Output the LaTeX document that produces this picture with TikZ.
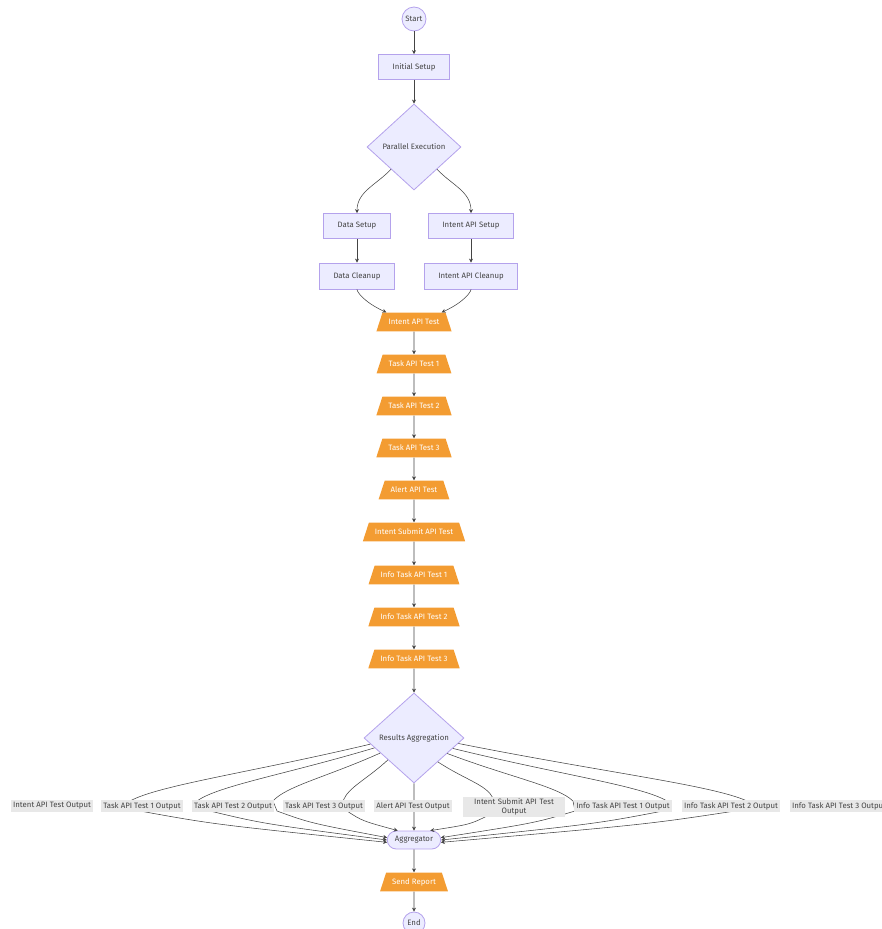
\documentclass[tikz,border=0pt]{standalone}
\usepackage{fontspec}
\setmainfont{Fira Sans}
\usetikzlibrary{shapes.geometric, shapes.misc, arrows.meta, calc}

\definecolor{boxfill}{HTML}{ECECFF}
\definecolor{boxline}{HTML}{B4A2EC}
\definecolor{testfill}{HTML}{F39C32}
\definecolor{edgeline}{HTML}{444444}
\definecolor{labelfill}{HTML}{E8E8E8}

\begin{document}
\begin{tikzpicture}[x=1pt, y=-1pt,
        font=\fontsize{7.8}{9.2}\selectfont, text=edgeline,
        proc/.style={draw=boxline, fill=boxfill, line width=0.8pt, minimum height=25, inner xsep=14},
        choice/.style={diamond, draw=boxline, fill=boxfill, line width=0.8pt, inner sep=0pt},
        terminal/.style={circle, draw=boxline, fill=boxfill, line width=0.8pt, inner sep=0pt},
        test/.style={trapezium, trapezium left angle=72, trapezium right angle=72, fill=testfill,
            text=white, text height=5.7, text depth=1.6, inner xsep=6, inner ysep=5.8},
        outlabel/.style={fill=labelfill, inner xsep=2, inner ysep=2.5},
        edge/.style={draw=edgeline, line width=0.55pt, -{Stealth[length=4pt, width=4pt]}}]
    \useasboundingbox (0,0) rectangle (882,929);

    \node [terminal, minimum size=24] (start) at (414,19) {Start};
    \node [proc] (setup) at (414,67) {Initial Setup};
    \node [choice, minimum width=94, minimum height=86] (par) at (414,147) {Parallel Execution};
    \node [proc] (dsetup) at (357,226) {Data Setup};
    \node [proc] (isetup) at (471,226) {Intent API Setup};
    \node [proc, minimum height=26] (dclean) at (357,276) {Data Cleanup};
    \node [proc, minimum height=26] (iclean) at (471,276) {Intent API Cleanup};
    \foreach \n/\y/\t in {t1/322/Intent API Test, t2/364/Task API Test 1, t3/406/Task API Test 2,
            t4/448/Task API Test 3, t5/490/Alert API Test, t6/532/Intent Submit API Test,
            t7/575/Info Task API Test 1, t8/617/Info Task API Test 2, t9/659/Info Task API Test 3}
        \node [test] (\n) at (414,\y) {\t};
    \node [choice, minimum width=100, minimum height=90] (ra) at (414,738) {Results Aggregation};
    \node [rounded rectangle, draw=boxline, fill=boxfill, line width=0.8pt, minimum height=18,
        inner xsep=7] (agg) at (414,840) {Aggregator};
    \node [test] (send) at (414,882) {Send Report};
    \node [terminal, minimum size=22] (end) at (414,923) {End};

    \draw [edge] (start) -- (setup);
    \draw [edge] (setup) -- (par);
    \draw [edge] (par.224) to[out=-133, in=90] (dsetup);
    \draw [edge] (par.316) to[out=-47, in=90] (isetup);
    \draw [edge] (dsetup) -- (dclean);
    \draw [edge] (isetup) -- (iclean);
    \draw [edge] (dclean) .. controls +(0,16) and +(-22,-10) .. ([xshift=4]t1.top left corner);
    \draw [edge] (iclean) .. controls +(0,16) and +(22,-10) .. ([xshift=-4]t1.top right corner);
    \foreach \a/\b in {t1/t2, t2/t3, t3/t4, t4/t5, t5/t6, t6/t7, t7/t8, t8/t9, t9/ra}
        \draw [edge] (\a) -- (\b);

    \foreach \sa/\ax/\ay/\bx/\by/\ea in {188/130/801/140/811/185, 194/197/801/210/811/180,
            204/273/801/277/811/175, 220/343/801/347/811/150, 315/493/798/487/816/30,
            335/573/801/575/811/5, 345/667/801/663/811/0, 353/747/801/735/811/355}
        \draw [edge] (ra.\sa) .. controls ($(ra.\sa)!0.5!(\ax,\ay)$) and ($(\ax,\ay)!0.12!(ra.\sa)+(0,-9)$)
            .. (\ax,\ay) -- (\bx,\by) .. controls ($(\bx,\by)!0.3!(agg.\ea)+(0,4)$) .. (agg.\ea);
    \draw [edge] (ra) -- (agg);
    \draw [edge] (agg) -- (send);
    \draw [edge] (send) -- (end);

    \foreach \n/\x/\t in {o1/52/Intent API Test Output, o2/142/Task API Test 1 Output,
            o3/233/Task API Test 2 Output, o4/324/Task API Test 3 Output, o5/413/Alert API Test Output,
            o7/623/Info Task API Test 1 Output, o8/731/Info Task API Test 2 Output,
            o9/839/Info Task API Test 3 Output}
        \node [outlabel] (\n) at (\x,806) {\t};
    \node [outlabel, text width=96, align=center, inner xsep=3, inner ysep=1.5] (o6) at (514,807)
        {Intent Submit API Test\\Output};
\end{tikzpicture}
\end{document}
